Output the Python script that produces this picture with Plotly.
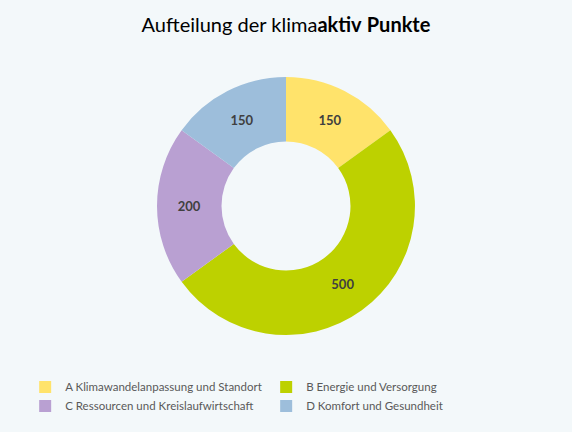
import plotly.graph_objects as go

# data
categories = ['A Klimawandelanpassung und Standort', 'B Energie und Versorgung',
              'C Ressourcen und Kreislaufwirtschaft', 'D Komfort und Gesundheit']
points = [150, 500, 200, 150]
colours = ['#FFE36B', '#BDD100', '#B9A0D2', '#9DBEDB']

BG = '#F3F8FA'
FONT = 'Lato, Open Sans, sans-serif'

fig = go.Figure()
fig.add_trace(go.Pie(labels=categories,
                     values=points,
                     marker=dict(colors=colours, line=dict(width=0)),
                     hole=0.5,
                     sort=False,
                     direction='clockwise',
                     rotation=0,
                     textinfo='value',
                     textposition='inside',
                     insidetextorientation='horizontal',
                     textfont=dict(family=FONT, size=13, color='#404040', weight='bold'),
                     hoverinfo='label+value',
                     domain=dict(x=[0, 1], y=[0, 1])))

fig.update_layout(
    width=572, height=432,
    paper_bgcolor=BG, plot_bgcolor=BG,
    margin=dict(l=0, r=0, t=77, b=97, autoexpand=False),
    title=dict(text='Aufteilung der klima<b>aktiv</b> <b>Punkte</b>',
               x=0.5, xanchor='center', y=0.942, yanchor='middle',
               font=dict(family=FONT, size=20, color='#000000')),
    legend=dict(orientation='h', x=0.044, xanchor='left',
                yref='container', y=0.138, yanchor='top',
                entrywidth=196, entrywidthmode='pixels',
                font=dict(family=FONT, size=11.5, color='#595959'),
                bgcolor='rgba(0,0,0,0)', traceorder='normal'),
    font=dict(family=FONT),
)

# page body margin off so the figure sits at the window's corner
fig.write_html('out.html', config=dict(displayModeBar=False),
               post_script='document.body.style.margin = "0px";')
